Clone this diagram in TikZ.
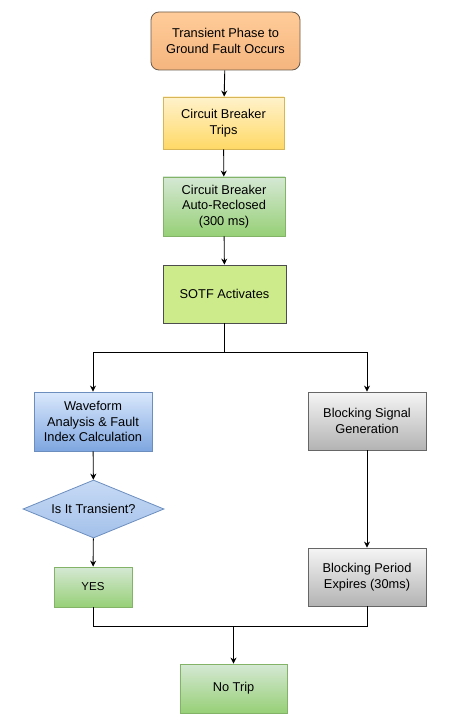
\documentclass[tikz,border=0pt]{standalone}
\usepackage{fontspec}
\setmainfont{Liberation Sans}
\usetikzlibrary{shapes.geometric,arrows.meta}
\definecolor{orgF}{HTML}{FFCC99}
\definecolor{orgB}{HTML}{F5B57E}
\definecolor{orgS}{HTML}{6B5A4A}
\definecolor{yelT}{HTML}{FFF2CC}
\definecolor{yelB}{HTML}{FFD966}
\definecolor{yelS}{HTML}{D6B656}
\definecolor{grnT}{HTML}{D5E8D4}
\definecolor{grnB}{HTML}{97D077}
\definecolor{grnS}{HTML}{82B366}
\definecolor{limeF}{HTML}{CDEB8B}
\definecolor{limeS}{HTML}{4D4D4D}
\definecolor{bluT}{HTML}{DAE8FC}
\definecolor{bluB}{HTML}{7EA6E0}
\definecolor{bluS}{HTML}{6C8EBF}
\definecolor{bluD}{HTML}{B4CCEE}
\definecolor{gryT}{HTML}{F5F5F5}
\definecolor{gryB}{HTML}{B3B3B3}
\definecolor{gryS}{HTML}{666666}
\tikzset{
  base/.style={rectangle, align=center, font=\fontsize{12.8}{15.5}\selectfont, inner sep=0pt, line width=0.8pt},
  orangebox/.style={base, rounded corners=8pt, draw=orgS, top color=orgF, bottom color=orgB, minimum width=149pt, minimum height=58pt},
  yellowbox/.style={base, draw=yelS, top color=yelT, bottom color=yelB},
  greenbox/.style={base, draw=grnS, top color=grnT, bottom color=grnB},
  limebox/.style={base, draw=limeS, fill=limeF},
  bluebox/.style={base, draw=bluS, top color=bluT, bottom color=bluB},
  graybox/.style={base, draw=gryS, top color=gryT, bottom color=gryB},
  decision/.style={diamond, aspect=2.43, align=center, font=\fontsize{12.8}{15.5}\selectfont, inner sep=0pt, draw=bluS, line width=0.8pt, top color=bluT!50!bluD, bottom color=bluD!70!bluB, minimum width=141pt, minimum height=58pt},
  arr/.style={draw=black, line width=0.9pt, -{Stealth[length=6pt,width=6pt]}},
  ln/.style={draw=black, line width=0.9pt}
}
\begin{document}
\begin{tikzpicture}[x=1pt,y=-1pt]
\useasboundingbox[fill=white] (0,0) rectangle (449,722);
\node[orangebox] (start) at (225.5,41) {Transient Phase to\\Ground Fault Occurs};
\node[yellowbox, minimum width=121pt, minimum height=52pt] (trips) at (223.5,123) {Circuit Breaker\\Trips};
\node[greenbox, minimum width=122pt, minimum height=59pt] (reclose) at (224,206.5) {Circuit Breaker\\Auto-Reclosed\\(300 ms)};
\node[limebox, minimum width=123pt, minimum height=58pt] (sotf) at (224.5,294) {SOTF Activates};
\node[bluebox, minimum width=118pt, minimum height=59pt] (wave) at (93,421.5) {Waveform\\Analysis \& Fault\\Index Calculation};
\node[decision] (dec) at (93.5,509) {Is It Transient?};
\node[greenbox, minimum width=78pt, minimum height=40pt, font=\fontsize{11.5}{13}\selectfont] (yes) at (93,587) {YES};
\node[graybox, minimum width=118pt, minimum height=58pt] (block) at (367,421) {Blocking Signal\\Generation};
\node[graybox, minimum width=118pt, minimum height=58pt] (expire) at (367,577) {Blocking Period\\Expires (30ms)};
\node[greenbox, minimum width=107pt, minimum height=49pt] (notrip) at (233.5,688.5) {No Trip};
\coordinate (split) at (224.5,352);
\coordinate (merge) at (233.5,626);
\draw[arr] (start) -- (trips);
\draw[arr] (trips) -- (reclose);
\draw[arr] (reclose) -- (sotf);
\draw[ln] (sotf.south) -- (split);
\draw[arr] (split) -| (wave.north);
\draw[arr] (split) -| (block.north);
\draw[arr] (wave) -- (dec);
\draw[arr] (dec) -- (yes);
\draw[arr] (block) -- (expire);
\draw[ln] (yes.south) |- (merge);
\draw[ln] (expire.south) |- (merge);
\draw[arr] (merge) -- (notrip.north);
\end{tikzpicture}
\end{document}
